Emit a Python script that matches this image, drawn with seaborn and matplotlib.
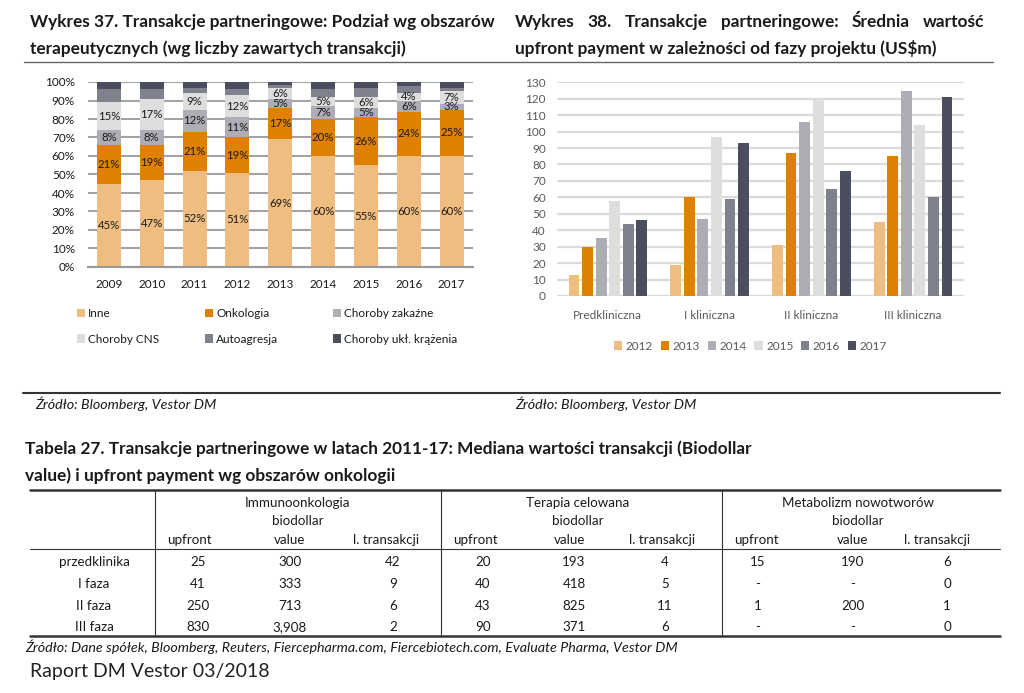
import numpy as np
import pandas as pd
import matplotlib
matplotlib.use("Agg")
import matplotlib.pyplot as plt
import seaborn as sns
from matplotlib.lines import Line2D
from matplotlib.patches import Patch

# ---------------- data ----------------
years37 = ["2009", "2010", "2011", "2012", "2013", "2014", "2015", "2016", "2017"]
inne = [45, 47, 52, 51, 69, 60, 55, 60, 60]
onkologia = [21, 19, 21, 19, 17, 20, 26, 24, 25]
zakazne = [8, 8, 12, 11, 5, 7, 5, 6, 3]
cns = [15, 17, 9, 12, 6, 5, 6, 4, 7]
autoagresja = [7, 5, 3, 3, 1.5, 4, 5, 4, 2]
krazenie = [4, 4, 3, 4, 1.5, 4, 3, 2, 3]
names37 = ["Inne", "Onkologia", "Choroby zakaźne", "Choroby CNS", "Autoagresja", "Choroby ukł. krążenia"]

phases = ["Predkliniczna", "I kliniczna", "II kliniczna", "III kliniczna"]
years38 = ["2012", "2013", "2014", "2015", "2016", "2017"]
v2012 = [13, 19, 31, 45]
v2013 = [30, 60, 87, 85]
v2014 = [35, 47, 106, 125]
v2015 = [58, 97, 120, 104]
v2016 = [44, 59, 65, 60]
v2017 = [46, 93, 76, 121]

row_labels = ["przedklinika", "I faza", "II faza", "III faza"]
groups = ["Immunoonkologia", "Terapia celowana", "Metabolizm nowotworów"]
sub_headers = ["upfront", "value", "l. transakcji"]
immuno_upfront = ["25", "41", "250", "830"]
immuno_value = ["300", "333", "713", "3,908"]
immuno_n = ["42", "9", "6", "2"]
terapia_upfront = ["20", "40", "43", "90"]
terapia_value = ["193", "418", "825", "371"]
terapia_n = ["4", "5", "11", "6"]
metab_upfront = ["15", "-", "1", "-"]
metab_value = ["190", "-", "200", "-"]
metab_n = ["6", "0", "1", "0"]

colors = ["#f0bd80", "#e08000", "#adadb5", "#dedede", "#80818e", "#4a4e5e"]

# ---------------- figure ----------------
sns.set_theme(style="white")
plt.rcParams["font.family"] = ["Lato", "DejaVu Sans"]
W, H = 1024, 693
fig = plt.figure(figsize=(W / 100, H / 100), dpi=100)
fig.patch.set_facecolor("white")


def ax_rect(x0, y0, x1, y1):
    return [x0 / W, 1 - y1 / H, (x1 - x0) / W, (y1 - y0) / H]


def ftext(x, y, s, **kw):
    kw.setdefault("va", "center")
    kw.setdefault("color", "#1a1a1a")
    return fig.text(x / W, 1 - y / H, s, **kw)


def fline(x0, x1, y0, y1, **kw):
    fig.add_artist(Line2D([x0 / W, x1 / W], [1 - y0 / H, 1 - y1 / H],
                          transform=fig.transFigure, **kw))


# ---------------- left chart ----------------
ax1 = fig.add_axes(ax_rect(87.5, 82, 473, 267))
series = [inne, onkologia, zakazne, cns, autoagresja, krazenie]
cums = np.cumsum(np.array(series, dtype=float), axis=0)
for i in reversed(range(len(series))):
    sns.barplot(x=years37, y=cums[i], color=colors[i], saturation=1, width=0.56,
                errorbar=None, ax=ax1, zorder=2, linewidth=0)
for i in range(4):
    bottoms = cums[i] - np.array(series[i])
    for j, v in enumerate(series[i]):
        ax1.text(j, bottoms[j] + v / 2, f"{v:g}%", ha="center", va="center",
                 fontsize=8.2, color="#1a1a1a", zorder=3)
ax1.set_ylim(0, 100)
ax1.set_xlim(-0.5, 8.5)
ax1.set_yticks(np.arange(0, 101, 10))
ax1.set_yticklabels([f"{t}%" for t in range(0, 101, 10)])
ax1.yaxis.grid(True, color="#a3a3a3", linewidth=1.5, zorder=0)
ax1.set_axisbelow(True)
for s in ["top", "right", "left"]:
    ax1.spines[s].set_visible(False)
ax1.spines["bottom"].set_color("#999999")
ax1.spines["bottom"].set_linewidth(1.5)
ax1.tick_params(axis="y", length=0, pad=9, labelsize=8.5, labelcolor="#1a1a1a")
ax1.tick_params(axis="x", length=0, pad=9, labelsize=8.5, labelcolor="#1a1a1a")
ax1.set_xlabel("")
ax1.set_ylabel("")

# legend for left chart (three columns of two entries)
col_x = [76.5, 204.5, 332.5]
for c in range(3):
    idx = [c, c + 3]
    handles = [Patch(facecolor=colors[k], edgecolor="none", label=names37[k]) for k in idx]
    fig.legend(handles=handles, loc="upper left",
               bbox_to_anchor=(col_x[c] / W, 1 - 308 / H), frameon=False,
               fontsize=8.5, handlelength=0.7, handleheight=0.7, handletextpad=0.3,
               labelspacing=1.25, borderpad=0, borderaxespad=0, labelcolor="#1a1a1a")

# ---------------- right chart ----------------
ax2 = fig.add_axes(ax_rect(557, 82.3, 964, 296))
df38 = pd.DataFrame({"faza": phases, "2012": v2012, "2013": v2013, "2014": v2014,
                     "2015": v2015, "2016": v2016, "2017": v2017})
long38 = df38.melt(id_vars="faza", var_name="rok", value_name="wartosc")
sns.barplot(data=long38, x="faza", y="wartosc", hue="rok", hue_order=years38,
            order=phases, palette=colors, saturation=1, width=0.8, gap=0.2,
            errorbar=None, ax=ax2, zorder=2, linewidth=0)
ax2.set_ylim(0, 130)
ax2.set_xlim(-0.5, 3.5)
ax2.set_yticks(np.arange(0, 131, 10))
ax2.yaxis.grid(True, color="#dadada", linewidth=1.6, zorder=0)
ax2.set_axisbelow(True)
for s in ["top", "right", "left", "bottom"]:
    ax2.spines[s].set_visible(False)
ax2.tick_params(axis="y", length=0, pad=8, labelsize=8.5, labelcolor="#595959")
ax2.tick_params(axis="x", length=0, pad=10, labelsize=8.5, labelcolor="#595959")
ax2.set_xlabel("")
ax2.set_ylabel("")
ax2.get_legend().remove()
handles38 = [Patch(facecolor=colors[k], edgecolor="none", label=years38[k]) for k in range(6)]
fig.legend(handles=handles38, loc="center left", bbox_to_anchor=(614 / W, 1 - 346 / H),
           ncol=6, frameon=False, fontsize=8.5, handlelength=0.7, handleheight=0.7,
           handletextpad=0.3, columnspacing=0.65, borderpad=0, borderaxespad=0,
           labelcolor="#595959")

# ---------------- titles & sources ----------------
tkw = dict(fontsize=12.4, fontweight="bold", va="baseline", ha="left")
ftext(30, 27, "Wykres 37. Transakcje partneringowe: Podział wg obszarów", **tkw)
ftext(30, 54, "terapeutycznych (wg liczby zawartych transakcji)", **tkw)

# justified first line of the right-hand title (spread between x=515 and x=984)
words = ["Wykres", "38.", "Transakcje", "partneringowe:", "Średnia", "wartość"]
renderer = fig.canvas.get_renderer()
word_artists = [ftext(515, 27, wd, **tkw) for wd in words]
widths = [a.get_window_extent(renderer).width for a in word_artists]
x_left, x_right = 515, 984
gap_px = (x_right - x_left - sum(widths)) / (len(words) - 1)
cur = x_left
for a, wdt in zip(word_artists, widths):
    a.set_x(cur / W)
    cur += wdt + gap_px
ftext(515, 54, "upfront payment w zależności od fazy projektu (US$m)", **tkw)
fline(24, 993, 61.5, 61.5, color="#666666", linewidth=1.0)

fline(23, 1000, 393, 393, color="#333333", linewidth=1.5)
ftext(35, 404, "Źródło: Bloomberg, Vestor DM", fontsize=10.3, style="italic", ha="left")
ftext(515, 404, "Źródło: Bloomberg, Vestor DM", fontsize=10.3, style="italic", ha="left")

# ---------------- table ----------------
ftext(25, 454, "Tabela 27. Transakcje partneringowe w latach 2011-17: Mediana wartości transakcji (Biodollar",
      **tkw)
ftext(25, 481, "value) i upfront payment wg obszarów onkologii", **tkw)

fline(30, 1000, 490, 490, color="#333333", linewidth=1.8)
fline(30, 1000, 548.5, 548.5, color="#333333", linewidth=0.8)
fline(30, 1000, 636, 636, color="#333333", linewidth=1.8)
for vx in [155, 441, 722]:
    fline(vx, vx, 490, 636, color="#333333", linewidth=0.8)

group_x = [298, 578, 858]
head_x = [[189, 290, 386], [475, 570, 662], [756, 853, 937]]
val_x = [[198, 290, 393], [483, 574, 665], [758, 853, 947]]
row_y = [562, 584, 605.5, 627]
tab = [[immuno_upfront, immuno_value, immuno_n],
       [terapia_upfront, terapia_value, terapia_n],
       [metab_upfront, metab_value, metab_n]]
fs_tab = 9.6
for g in range(3):
    ftext(group_x[g], 503, groups[g], fontsize=fs_tab, ha="center")
    ftext(group_x[g], 521, "biodollar", fontsize=fs_tab, ha="center")
    for k in range(3):
        ftext(head_x[g][k], 540, sub_headers[k], fontsize=fs_tab, ha="center")
        for r in range(4):
            ftext(val_x[g][k], row_y[r], tab[g][k][r], fontsize=fs_tab, ha="center")
for r in range(4):
    ftext(94, row_y[r], row_labels[r], fontsize=fs_tab, ha="center")

ftext(25, 647, "Źródło: Dane spółek, Bloomberg, Reuters, Fiercepharma.com, Fiercebiotech.com, Evaluate Pharma, Vestor DM",
      fontsize=10.3, style="italic", ha="left")
ftext(30, 672, "Raport DM Vestor 03/2018", fontsize=14, ha="left", color="#222222")

fig.savefig("out.png", dpi=100, facecolor="white")
